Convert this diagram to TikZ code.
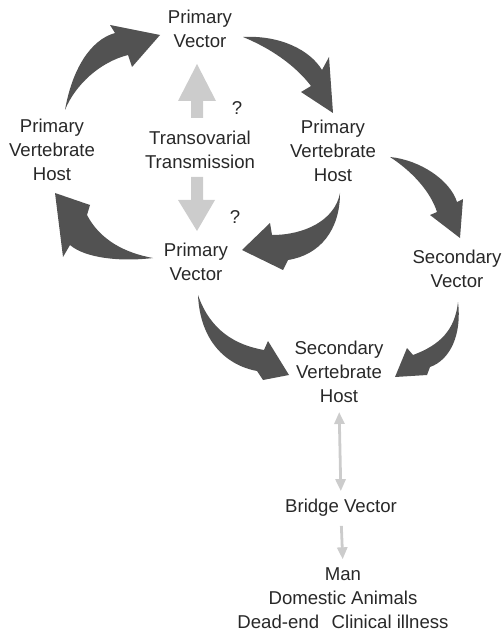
\documentclass[tikz,border=0pt]{standalone}
\usepackage{fontspec}
\setmainfont{Liberation Sans}
\usetikzlibrary{arrows.meta}
\definecolor{ink}{HTML}{282828}
\definecolor{darkarr}{HTML}{525252}
\definecolor{lightarr}{HTML}{CCCCCC}
\begin{document}
\begin{tikzpicture}[x=1pt,y=-1pt,
  lbl/.style={align=center, text=ink, font=\fontsize{18.6}{24}\selectfont, inner sep=0pt},
  bigarrow/.style={fill=darkarr, draw=none},
  lightblock/.style={fill=lightarr, draw=none},
  thinarrow/.style={draw=lightarr, line width=2.8pt, shorten <=9pt, shorten >=8pt}]
\useasboundingbox (0,0) rectangle (502,636);

% labels
\node[lbl] (pvtop) at (200,29) {Primary\\Vector};
\node[lbl] (pvhl) at (52,150) {Primary\\Vertebrate\\Host};
\node[lbl] (trans) at (200,150) {Transovarial\\Transmission};
\node[lbl] (pvhr) at (333,151) {Primary\\Vertebrate\\Host};
\node[lbl] (pvmid) at (196,262) {Primary\\Vector};
\node[lbl] (sv) at (457,269) {Secondary\\Vector};
\node[lbl] (svh) at (339,372) {Secondary\\Vertebrate\\Host};
\node[lbl] (bv) at (341,508) {Bridge Vector};
\node[lbl] (man) at (343,598) {Man\\Domestic Animals\\Dead-end\hspace{0.4em} Clinical illness};
\node[lbl] (q1) at (237,108) {?};
\node[lbl] (q2) at (235,217) {?};

% dark curved block arrows
% left host -> top vector
\path[bigarrow] (65,110) .. controls (72,70) and (90,40) .. (115,33) -- (110,25) -- (160,35) -- (132,67) -- (128,55)
  .. controls (100,62) and (75,85) .. cycle;
% top vector -> right host
\path[bigarrow] (243,37) .. controls (280,35) and (310,50) .. (322,70) -- (329,57) -- (333,113) -- (301,92) -- (311,86)
  .. controls (295,65) and (270,48) .. cycle;
% middle vector -> left host
\path[bigarrow] (153,258) .. controls (120,262) and (85,258) .. (70,245) -- (63,257) -- (55,193) -- (90,205) -- (87,215)
  .. controls (100,240) and (125,253) .. cycle;
% right host -> middle vector
\path[bigarrow] (340,193) .. controls (335,220) and (305,235) .. (272,235) -- (270,223) -- (242,250) -- (283,270) -- (288,260)
  .. controls (320,255) and (340,230) .. cycle;
% right host -> secondary vector
\path[bigarrow] (390,157) .. controls (420,160) and (450,180) .. (457,202) -- (463,199) -- (460,238) -- (430,215) -- (437,212)
  .. controls (430,190) and (410,170) .. cycle;
% middle vector -> secondary host
\path[bigarrow] (198,295) .. controls (200,340) and (225,365) .. (257,371) -- (263,380) -- (289,375) -- (268,341) -- (264,350)
  .. controls (235,345) and (210,330) .. cycle;
% secondary vector -> secondary host
\path[bigarrow] (458,302) .. controls (455,330) and (440,345) .. (413,355) -- (407,348) -- (395,377) -- (427,375) -- (430,367)
  .. controls (450,360) and (462,335) .. cycle;

% light block arrows (transovarial)
\path[lightblock] (191,118) -- (191,101) -- (178,101) -- (197,64) -- (216,101) -- (203,101) -- (203,118) -- cycle;
\path[lightblock] (191,177) -- (203,177) -- (203,200) -- (215,200) -- (197,231) -- (178,200) -- (191,200) -- cycle;

% thin light arrows
\draw[thinarrow, {Triangle[width=10pt,length=12pt]}-{Triangle[width=10pt,length=12pt]}] (svh.south) -- (bv.north);
\draw[thinarrow, -{Triangle[width=10pt,length=12pt]}] (bv.south) -- (man.north);
\end{tikzpicture}
\end{document}
